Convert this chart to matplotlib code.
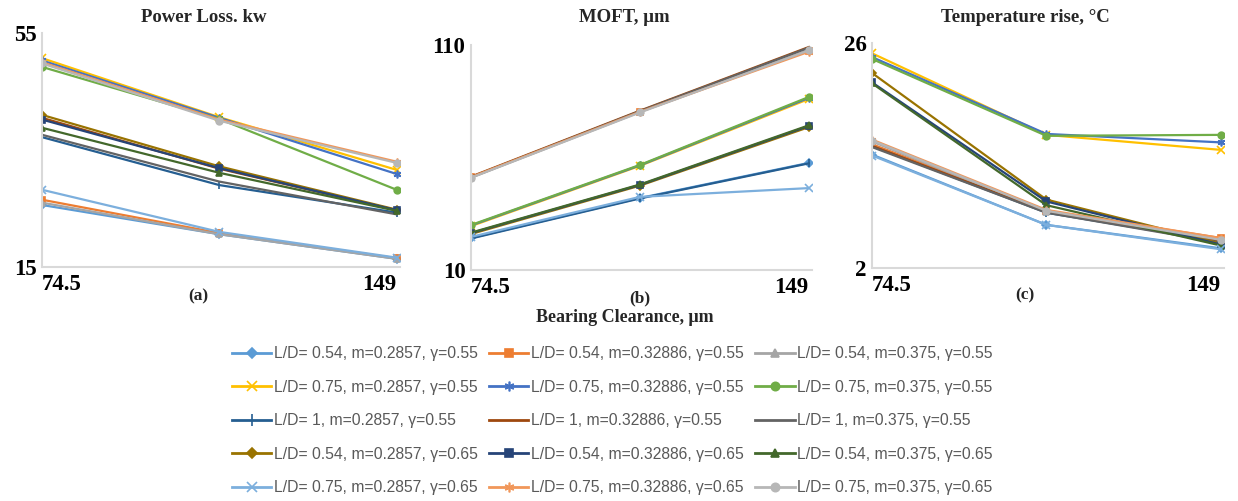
import matplotlib
matplotlib.use("Agg")
import matplotlib.pyplot as plt
from matplotlib.lines import Line2D

# ---------------- data ----------------
x_vals = [74.5, 111.75, 149]

labels = [
    "L/D= 0.54, m=0.2857, γ=0.55", "L/D= 0.54, m=0.32886, γ=0.55", "L/D= 0.54, m=0.375, γ=0.55",
    "L/D= 0.75, m=0.2857, γ=0.55", "L/D= 0.75, m=0.32886, γ=0.55", "L/D= 0.75, m=0.375, γ=0.55",
    "L/D= 1, m=0.2857, γ=0.55", "L/D= 1, m=0.32886, γ=0.55", "L/D= 1, m=0.375, γ=0.55",
    "L/D= 0.54, m=0.2857, γ=0.65", "L/D= 0.54, m=0.32886, γ=0.65", "L/D= 0.54, m=0.375, γ=0.65",
    "L/D= 0.75, m=0.2857, γ=0.65", "L/D= 0.75, m=0.32886, γ=0.65", "L/D= 0.75, m=0.375, γ=0.65",
]

power_loss = [
    [25.6, 20.6, 16.4],
    [26.5, 20.8, 16.5],
    [26.0, 20.6, 16.4],
    [50.7, 40.6, 31.6],
    [50.3, 40.5, 30.9],
    [49.2, 40.3, 28.2],
    [37.2, 29.0, 24.3],
    [40.5, 31.8, 24.7],
    [37.6, 29.6, 24.0],
    [41.0, 32.2, 24.8],
    [40.2, 31.9, 24.7],
    [38.8, 31.1, 24.6],
    [28.2, 21.0, 16.6],
    [50.0, 40.2, 33.0],
    [49.8, 40.0, 32.8],
]

moft = [
    [24.2, 42.0, 57.6],
    [51.3, 80.4, 107.5],
    [51.0, 80.2, 107.8],
    [29.5, 56.3, 86.0],
    [29.8, 56.5, 86.5],
    [30.0, 56.7, 86.9],
    [24.0, 41.8, 57.4],
    [51.5, 80.8, 109.1],
    [51.2, 80.6, 108.8],
    [26.0, 47.5, 73.5],
    [26.4, 47.8, 74.0],
    [26.6, 48.0, 74.3],
    [24.7, 42.5, 46.4],
    [51.3, 80.3, 107.0],
    [51.0, 80.0, 107.6],
]

temp_rise = [
    [14.1, 6.6, 4.1],
    [15.2, 8.1, 5.2],
    [15.5, 8.0, 5.0],
    [24.9, 16.2, 14.6],
    [24.5, 16.3, 15.4],
    [24.3, 16.1, 16.2],
    [15.0, 7.9, 4.8],
    [15.0, 8.0, 4.9],
    [14.9, 7.9, 4.7],
    [22.8, 9.3, 4.6],
    [21.8, 9.1, 4.5],
    [21.7, 8.7, 4.4],
    [14.0, 6.6, 4.0],
    [15.7, 8.2, 5.2],
    [15.6, 8.1, 5.0],
]

titles = ["Power Loss. kw", "MOFT, μm", "Temperature rise, °C"]
panel_tags = ["(a)", "(b)", "(c)"]
y_limits = [(15, 55), (10, 110), (2, 26)]
x_ticklabels = ["74.5", "149"]
x_label = "Bearing Clearance, μm"

# ---------------- styles ----------------
colors = ["#5B9BD5", "#ED7D31", "#A5A5A5", "#FFC000", "#4472C4", "#70AD47",
          "#255E91", "#9E480E", "#636363", "#997300", "#264478", "#43682B",
          "#7CAFDD", "#F1975A", "#B7B7B7"]
ast = (6, 2, 0)
markers = ["D", "s", "^", "x", ast, "o", "|", "_", "_", "D", "s", "^", "x", ast, "o"]
msizes = [5, 6, 6, 7, 7, 6, 8, 0, 0, 5, 6, 6, 7, 7, 6]

W, H = 1238, 501
fig = plt.figure(figsize=(W / 100, H / 100), dpi=100)

def fx(px):
    return px / W

def fy(py):
    return 1 - py / H

# axes boxes in pixels: (left, top, right, bottom)
boxes = [(42, 33, 400, 267), (471, 45, 812, 270), (872, 43, 1224, 268)]
datasets = [power_loss, moft, temp_rise]
title_pos = [(204, 17), (624, 18), (1025, 18)]
tag_pos = [(198, 296), (640, 298), (1025, 295)]

serif = "Liberation Serif"
for k, (box, data) in enumerate(zip(boxes, datasets)):
    l, t, r, b = box
    ax = fig.add_axes([fx(l), fy(b), fx(r) - fx(l), fy(t) - fy(b)])
    for i, ys in enumerate(data):
        ax.plot(x_vals, ys, color=colors[i], lw=1.6, marker=markers[i],
                ms=msizes[i] * 0.8, mec=colors[i], mfc=colors[i], mew=1.2)
    ax.set_xlim(74.5, 149.7)
    ax.set_ylim(*y_limits[k])
    for s in ["top", "right"]:
        ax.spines[s].set_visible(False)
    for s in ["left", "bottom"]:
        ax.spines[s].set_color("#D9D9D9")
        ax.spines[s].set_linewidth(1.5)
    ax.set_xticks([74.5, 149])
    ax.set_xticklabels(x_ticklabels, fontfamily=serif, fontweight="bold", fontsize=16.5)
    tl = ax.get_xticklabels()
    tl[0].set_ha("left")
    tl[1].set_ha("right")
    ax.tick_params(axis="x", length=0, pad=5)
    ax.set_yticks(list(y_limits[k]))
    ax.set_yticklabels([str(v) for v in y_limits[k]], fontfamily=serif,
                       fontweight="bold", fontsize=16.5)
    ax.tick_params(axis="y", length=0, pad=4)
    fig.text(fx(title_pos[k][0]), fy(title_pos[k][1]), titles[k], ha="center", va="center",
             fontfamily=serif, fontweight="bold", fontsize=13.5, color="#262626")
    fig.text(fx(tag_pos[k][0]), fy(tag_pos[k][1]), panel_tags[k], ha="center", va="center",
             fontfamily=serif, fontweight="bold", fontsize=12.5, color="#262626")

fig.text(fx(625), fy(318), x_label, ha="center", va="center", fontfamily=serif,
         fontweight="bold", fontsize=13, color="#262626")

# legend (row-major order like the reference)
leg_handles = []
for i in range(15):
    leg_handles.append(Line2D([], [], color=colors[i], lw=2, marker=markers[i],
                              ms=msizes[i], mec=colors[i], mfc=colors[i], mew=1.2))
order = [0, 3, 6, 9, 12, 1, 4, 7, 10, 13, 2, 5, 8, 11, 14]
leg = fig.legend([leg_handles[i] for i in order], [labels[i] for i in order],
                 ncol=3, loc="upper left", bbox_to_anchor=(fx(232), fy(346)),
                 frameon=False, borderpad=0, borderaxespad=0,
                 handlelength=2.5, handletextpad=0.15, columnspacing=0.75,
                 labelspacing=1.18,
                 prop={"family": "Liberation Sans", "size": 11.3})
for txt in leg.get_texts():
    txt.set_color("#595959")

fig.savefig("out.png", dpi=100)
